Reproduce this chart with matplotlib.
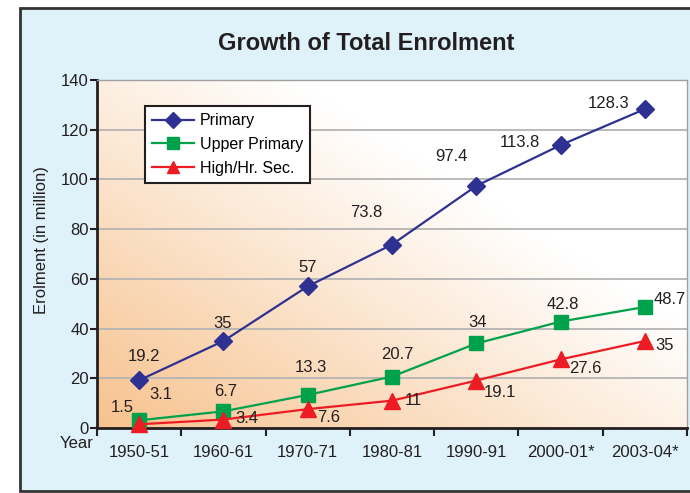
import numpy as np
import matplotlib
matplotlib.use("Agg")
import matplotlib.pyplot as plt
from matplotlib.patches import Rectangle

plt.rcParams['font.family'] = ['Liberation Sans', 'DejaVu Sans']

# data
years = ['1950-51', '1960-61', '1970-71', '1980-81', '1990-91', '2000-01*', '2003-04*']
primary = [19.2, 35, 57, 73.8, 97.4, 113.8, 128.3]
upper_primary = [3.1, 6.7, 13.3, 20.7, 34, 42.8, 48.7]
high_sec = [1.5, 3.4, 7.6, 11, 19.1, 27.6, 35]

# label offsets (pixels) for each value label
off_primary = [(5, 24), (-1, 18), (0, 19), (-26, 32), (-25, 29), (-41, 3), (-36, 6)]
off_upper = [(22, 26), (2, 20), (3, 27), (5, 22), (1, 21), (2, 17), (25, 7)]
off_high = [(-17, 17), (23, 1), (21, -8), (21, 0), (24, -12), (25, -9), (20, -5)]

fig = plt.figure(figsize=(6.9, 4.93), dpi=100)
fig.patch.set_facecolor('white')

# outer frame with light blue fill
frame = Rectangle((20 / 690, 1 - 491 / 493), 1.0, 483 / 493,
                  transform=fig.transFigure, facecolor='#dff2fa',
                  edgecolor='#333333', linewidth=2, zorder=-10)
fig.patches.append(frame)

ax = fig.add_axes([97 / 690, 1 - 428 / 493, 590 / 690, 348 / 493])
ax.set_zorder(1)
x = np.arange(len(years))
ax.set_xlim(-0.5, len(years) - 0.5)
ax.set_ylim(0, 140)

# orange -> white gradient background
gx, gy = np.meshgrid(np.linspace(0, 1, 200), np.linspace(0, 1, 200))
f = np.clip(1 - (0.9 * gx + 0.85 * gy) / 1.15, 0, 1)
orange = np.array([247, 194, 142]) / 255
white = np.array([1.0, 1.0, 1.0])
img = white[None, None, :] + (orange - white)[None, None, :] * f[:, :, None]
ax.imshow(img, extent=[-0.5, len(years) - 0.5, 0, 140], origin='lower',
          aspect='auto', zorder=0)

for yv in range(20, 140, 20):
    ax.axhline(yv, color='#b4b4b4', linewidth=1.3, zorder=1)

ax.plot(x, primary, color='#2e3192', linewidth=1.6, marker='D', markersize=9,
        label='Primary', zorder=4, clip_on=False)
ax.plot(x, upper_primary, color='#00a14b', linewidth=1.6, marker='s', markersize=10,
        label='Upper Primary', zorder=3, clip_on=False)
ax.plot(x, high_sec, color='#ed1c24', linewidth=1.6, marker='^', markersize=11,
        label='High/Hr. Sec.', zorder=5, clip_on=False)

for vals, offs in [(primary, off_primary), (upper_primary, off_upper), (high_sec, off_high)]:
    for xi, v, (dx, dy) in zip(x, vals, offs):
        ax.annotate(f'{v:g}', (xi, v), xytext=(dx, dy), textcoords='offset pixels',
                    ha='center', va='center', fontsize=12, color='#231f20', zorder=6)

# axes styling
for s in ['left', 'bottom']:
    ax.spines[s].set_color('#231f20')
    ax.spines[s].set_linewidth(2)
for s in ['top', 'right']:
    ax.spines[s].set_color('#a0a0a0')
    ax.spines[s].set_linewidth(1)

ax.set_yticks(range(0, 141, 20))
ax.tick_params(axis='y', length=5, width=1.5, color='#231f20', labelsize=12,
               labelcolor='#231f20', pad=1)
ax.set_xticks(x)
ax.set_xticklabels(years)
ax.set_xticks(np.arange(-0.5, len(years), 1), minor=True)
ax.tick_params(axis='x', which='major', length=0, labelsize=12, labelcolor='#231f20', pad=12)
ax.tick_params(axis='x', which='minor', length=6, width=1.5, color='#231f20')

fig.text(42 / 690, 1 - 240 / 493, 'Erolment (in million)', rotation=90,
         ha='center', va='center', fontsize=12, color='#231f20')
fig.text(77 / 690, 1 - 444 / 493, 'Year', ha='center', va='center',
         fontsize=12, color='#231f20')
fig.text(366 / 690, 1 - 43 / 493, 'Growth of Total Enrolment', ha='center', va='center',
         fontsize=17, fontweight='bold', color='#231f20')

leg = ax.legend(loc='upper left', bbox_to_anchor=(0.081, 0.925), fontsize=11.5,
                frameon=True, fancybox=False, borderaxespad=0, handlelength=2.6,
                borderpad=0.45, labelspacing=0.55, handletextpad=0.4)
leg.get_frame().set_edgecolor('#231f20')
leg.get_frame().set_linewidth(1.5)
leg.get_frame().set_facecolor('white')
leg.get_frame().set_alpha(1)
for h in leg.legend_handles:
    h.set_markersize(8)

fig.savefig('out.png', dpi=100, facecolor=fig.get_facecolor())
